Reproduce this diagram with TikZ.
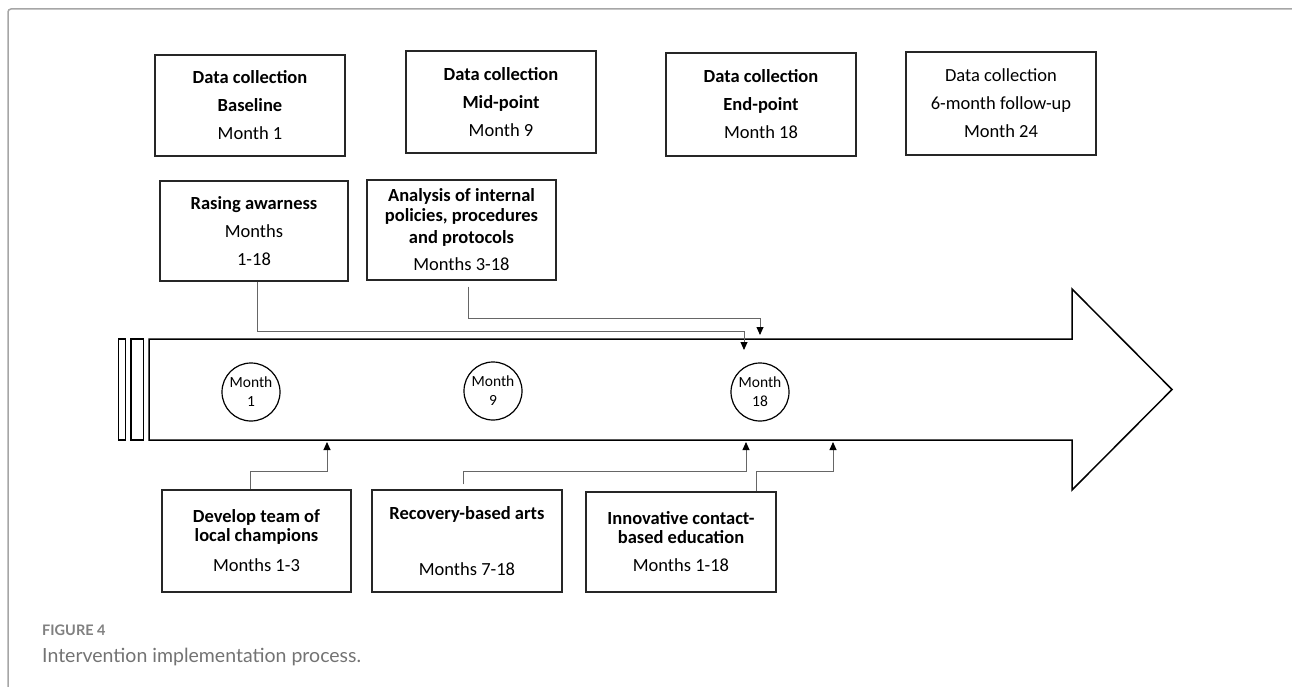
\documentclass[tikz,border=0pt]{standalone}
\usepackage{fontspec}
\setmainfont{Carlito}
\newfontfamily\capfont{Lato}
\usetikzlibrary{arrows.meta,calc}

\begin{document}
\begin{tikzpicture}[x=1pt,y=-1pt,
  box/.style={draw=black!85, line width=1.3pt, fill=white, align=center,
    inner sep=0pt, minimum width=190pt, minimum height=102pt,
    font=\fontsize{18.5}{28}\selectfont},
  month/.style={circle, draw=black, line width=1.2pt, minimum size=58pt,
    inner sep=0pt, align=center, font=\fontsize{15.5}{19}\selectfont},
  conn/.style={draw=black!60, line width=0.9pt},
  tip/.style={-{Triangle[width=7pt,length=8pt,color=black]}},
  outline/.style={draw=black, line width=1.5pt}
]
\useasboundingbox (0,0) rectangle (1292,687);

% page frame
\draw[black!35, line width=1.5pt, rounded corners=3pt] (8,687) -- (8,9) -- (1292,9);

% timeline arrow
\draw[outline, fill=white] (149,339) -- (1072,339) -- (1072,289) -- (1172,389.5)
  -- (1072,490) -- (1072,440) -- (149,440) -- cycle;
\draw[outline, line width=1.3pt] (118.5,339) rectangle (125.5,440);
\draw[outline, line width=1.3pt] (131,339) rectangle (143.5,440);

\coordinate (t1) at (744,350);
\coordinate (t2) at (760,335);
\coordinate (b1) at (327,442);
\coordinate (b2) at (746,442);
\coordinate (b3) at (833,442);

% milestones on the timeline
\node[month] (m1) at (251,392) {Month\\1};
\node[month] (m9) at (493,391) {Month\\9};
\node[month] (m18) at (760,392) {Month\\18};

% data collection points
\node[box, minimum height=101pt] (r1) at (250,105.5)
  {\textbf{Data collection}\\\textbf{Baseline}\\Month 1};
\node[box] (r2) at (501,102)
  {\textbf{Data collection}\\\textbf{Mid-point}\\Month 9};
\node[box, minimum height=103pt] (r3) at (761,104.5)
  {\textbf{Data collection}\\\textbf{End-point}\\Month 18};
\node[box, minimum height=103pt] (r4) at (1001,103.5)
  {Data collection\\6-month follow-up\\Month 24};

% activities above the timeline
\node[box, minimum width=188pt, minimum height=100pt] (r5) at (254,231)
  {\textbf{Rasing awarness}\\Months\\1-18};
\node[box, minimum width=189pt, minimum height=100pt] (r6) at (461.5,230)
  {\textbf{Analysis of internal}\\[-8pt]\textbf{policies, procedures}\\[-6pt]%
   \textbf{and protocols}\\[-1pt]Months 3-18};

% activities below the timeline
\node[box, minimum width=189pt] (r7) at (256.5,541)
  {\textbf{Develop team of}\\[-9pt]\textbf{local champions}\\[2pt]Months 1-3};
\node[box] (r8) at (467,541)
  {\textbf{Recovery-based arts}\\[28pt]Months 7-18};
\node[box, minimum height=100pt] (r9) at (681,542)
  {\textbf{Innovative contact-}\\[-9pt]\textbf{based education}\\Months 1-18};

% connectors
\draw[conn, tip] ($(r5.south)+(3,0)$) -- ++(0,50) -| (t1);
\draw[conn, tip] ($(r6.south)+(6.5,6)$) -- ++(0,32) -| (t2);
\draw[conn, tip] ($(r7.north)+(-6.5,0)$) -- ++(0,-18) -| (b1);
\draw[conn, tip] ($(r8.north)+(-4,-5)$) -- ++(0,-13) -| (b2);
\draw[conn, tip] ($(r9.north)+(75,0)$) -- ++(0,-20) -| (b3);

% caption
\node[anchor=base west, inner sep=0pt, text=black!50,
  font=\capfont\bfseries\fontsize{14.5}{16}\selectfont] (fig) at (42,635) {FIGURE 4};
\node[anchor=base west, inner sep=0pt, text=black!55,
  font=\capfont\fontsize{19.5}{22}\selectfont] (cap) at (42,662)
  {Intervention implementation process.};
\end{tikzpicture}
\end{document}
